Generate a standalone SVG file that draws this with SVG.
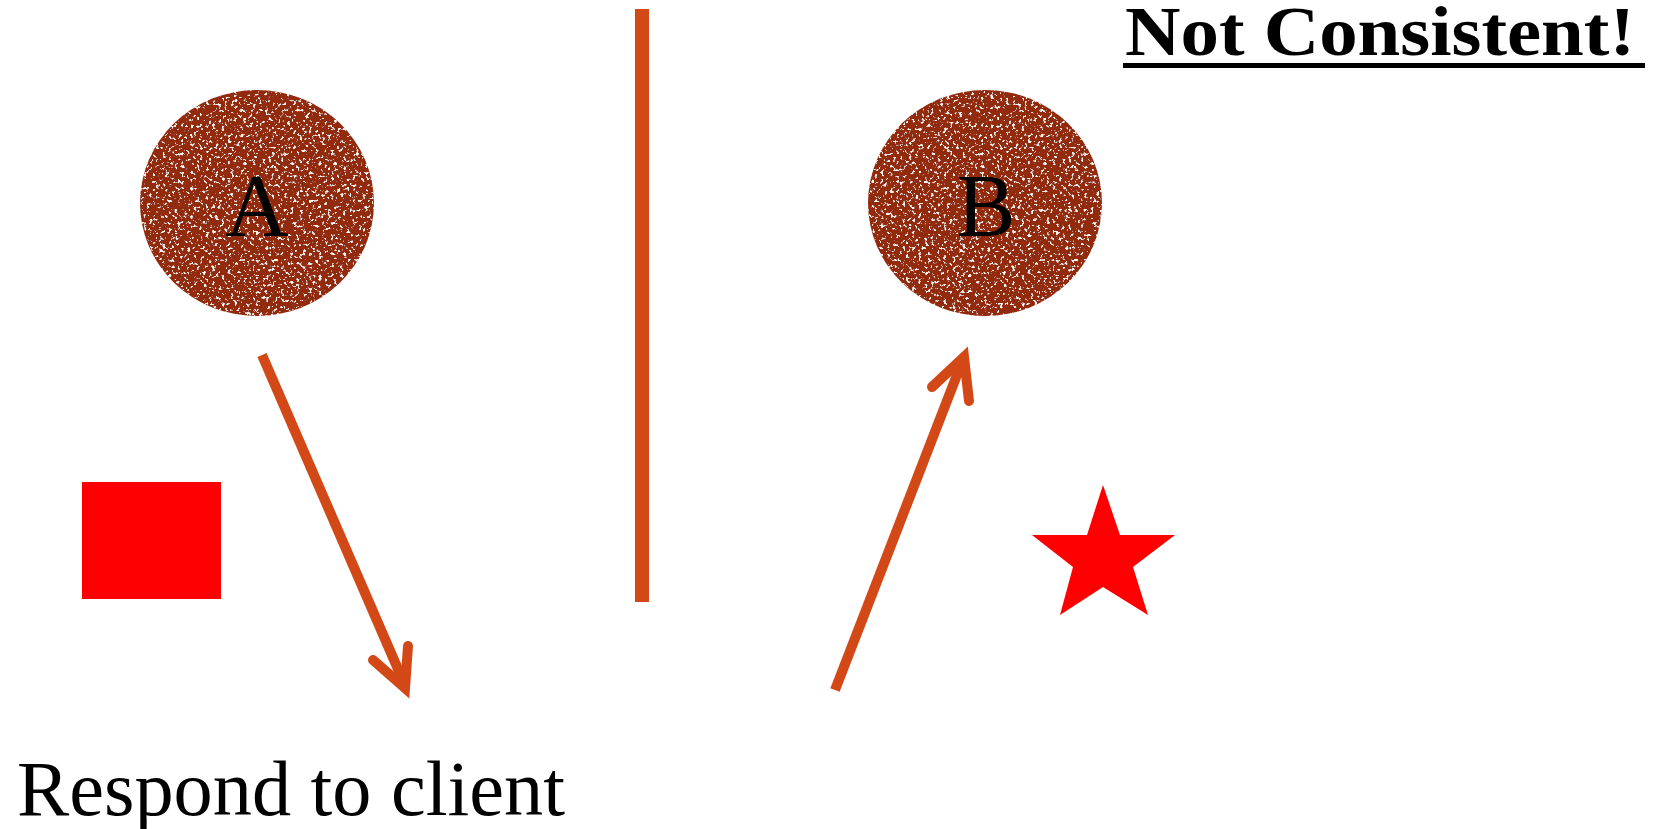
<svg xmlns="http://www.w3.org/2000/svg" width="1653" height="829" viewBox="0 0 1653 829">
<style>
.conn{stroke:#D34817;stroke-width:10;fill:none}
.head{stroke:#D34817;stroke-width:10;fill:none;stroke-linecap:round;stroke-linejoin:miter}
.node{fill:#922A0D;filter:url(#speckle)}
.lbl{font-family:"Liberation Serif",serif;font-size:88px;fill:#000;text-anchor:middle}
</style>
<defs>
<filter id="speckle" x="0" y="0" width="100%" height="100%">
<feTurbulence type="fractalNoise" baseFrequency="0.32" numOctaves="3" seed="7" result="n"/>
<feColorMatrix in="n" type="matrix" values="0 0 0 0 1  0 0 0 0 0.9  0 0 0 0 0.86  11 0 0 0 -6.6" result="spots"/>
<feComposite in="spots" in2="SourceGraphic" operator="in" result="s"/>
<feMerge><feMergeNode in="SourceGraphic"/><feMergeNode in="s"/></feMerge>
</filter>
</defs>
<rect width="1653" height="829" fill="#fff"/>
<g id="title">
<text x="1125" y="55" font-family="'Liberation Serif',serif" font-weight="bold" font-size="70" textLength="510" lengthAdjust="spacingAndGlyphs">Not Consistent!</text>
<rect x="1123" y="63" width="522" height="5" fill="#000"/>
</g>
<g id="divider"><rect x="635" y="9" width="14" height="593" fill="#D34817"/></g>
<g id="nodeA">
<ellipse class="node" cx="257" cy="203" rx="117" ry="113"/>
<text class="lbl" x="257" y="235">A</text>
</g>
<g id="nodeB">
<ellipse class="node" cx="985" cy="203" rx="117" ry="113"/>
<text class="lbl" x="986" y="235">B</text>
</g>
<g id="square"><rect x="82" y="482" width="139" height="117" fill="#FF0000"/></g>
<g id="star"><polygon points="1103,485 1120,535 1175,535 1133,567 1148,615 1103,587 1060,615 1073,567 1032,535 1087,535" fill="#FF0000"/></g>
<g id="connectors">
<line class="conn" x1="262" y1="355" x2="404" y2="683"/>
<polyline class="head" points="373,660 405,688 408,646"/>
<line class="conn" x1="835" y1="690" x2="962" y2="362"/>
<polyline class="head" points="932,387 964,357 969,401"/>
</g>
<g id="caption">
<text x="17" y="815" font-family="'Liberation Serif',serif" font-size="78" textLength="548" lengthAdjust="spacingAndGlyphs">Respond to client</text>
</g>
</svg>
